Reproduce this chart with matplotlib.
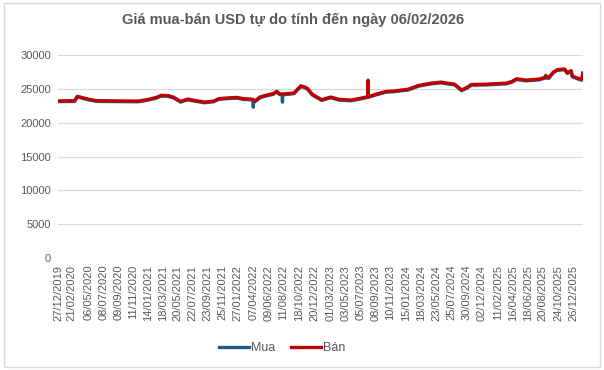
import numpy as np
import pandas as pd
import matplotlib
matplotlib.use("Agg")
import matplotlib.pyplot as plt
from matplotlib.patches import FancyBboxPatch

# ngày quan sát
dates = ["27/12/2019", "06/03/2020", "18/03/2020", "05/04/2020", "09/05/2020",
         "10/06/2020", "03/12/2020", "14/01/2021", "18/02/2021", "10/03/2021",
         "09/04/2021", "03/05/2021", "01/06/2021", "30/06/2021", "30/07/2021",
         "10/09/2021", "19/10/2021", "10/11/2021", "13/12/2021", "24/01/2022",
         "24/02/2022", "24/03/2022", "05/04/2022", "06/04/2022", "07/04/2022",
         "13/04/2022", "04/05/2022", "29/05/2022", "29/06/2022", "15/07/2022",
         "28/07/2022", "07/08/2022", "08/08/2022", "09/08/2022", "15/08/2022",
         "26/09/2022", "25/10/2022", "10/11/2022", "23/11/2022", "13/12/2022",
         "22/01/2023", "01/03/2023", "06/04/2023", "26/05/2023", "04/07/2023",
         "06/08/2023", "07/08/2023", "08/08/2023", "08/09/2023", "20/10/2023",
         "27/11/2023", "25/01/2024", "08/03/2024", "01/05/2024", "12/06/2024",
         "10/07/2024", "09/08/2024", "08/09/2024", "30/09/2024", "20/10/2024",
         "20/12/2024", "17/02/2025", "18/03/2025", "10/04/2025", "30/04/2025",
         "10/06/2025", "05/08/2025", "28/08/2025", "01/09/2025", "13/09/2025",
         "04/10/2025", "20/10/2025", "20/11/2025", "02/12/2025", "18/12/2025",
         "23/12/2025", "14/01/2026", "01/02/2026", "06/02/2026"]

ban = [23230, 23250, 23900, 23750, 23450,
       23250, 23200, 23450, 23750, 24050,
       24000, 23750, 23150, 23500, 23300,
       23050, 23200, 23550, 23650, 23750,
       23550, 23500, 23450, 23450, 23400,
       23200, 23800, 24050, 24300, 24650,
       24250, 24250, 24250, 24250, 24250,
       24400, 25450, 25300, 25050, 24200,
       23400, 23800, 23450, 23350, 23600,
       23850, 26300, 23850, 24200, 24600,
       24700, 24950, 25500, 25850, 26000,
       25850, 25700, 24850, 25200, 25650,
       25700, 25800, 25850, 26100, 26500,
       26300, 26450, 26700, 27000, 26650,
       27500, 27850, 27950, 27400, 27700,
       26900, 26600, 26400, 27350]

mua = [23130, 23150, 23800, 23650, 23350,
       23150, 23100, 23350, 23650, 23950,
       23900, 23650, 23050, 23400, 23200,
       22950, 23100, 23450, 23550, 23650,
       23450, 23400, 23350, 22300, 23300,
       23100, 23700, 23950, 24200, 24550,
       24150, 24150, 23050, 24150, 24150,
       24300, 25350, 25200, 24950, 24100,
       23300, 23700, 23350, 23250, 23500,
       23750, 23750, 23750, 24100, 24500,
       24600, 24850, 25400, 25750, 25900,
       25750, 25600, 24750, 25100, 25550,
       25600, 25700, 25750, 26000, 26400,
       26200, 26350, 26600, 26650, 26550,
       27400, 27750, 27850, 27300, 27600,
       26800, 26500, 26300, 27250]

tick_labels = ["27/12/2019", "21/02/2020", "06/05/2020", "08/07/2020", "09/09/2020",
               "11/11/2020", "14/01/2021", "18/03/2021", "20/05/2021", "22/07/2021",
               "23/09/2021", "25/11/2021", "27/01/2022", "07/04/2022", "09/06/2022",
               "11/08/2022", "18/10/2022", "20/12/2022", "01/03/2023", "03/05/2023",
               "05/07/2023", "08/09/2023", "10/11/2023", "15/01/2024", "18/03/2024",
               "23/05/2024", "25/07/2024", "30/09/2024", "02/12/2024", "11/02/2025",
               "16/04/2025", "18/06/2025", "20/08/2025", "24/10/2025", "26/12/2025"]

x = pd.to_datetime(dates, format="%d/%m/%Y")
ticks = pd.to_datetime(tick_labels, format="%d/%m/%Y")

fig = plt.figure(figsize=(6.04, 3.70), dpi=100)
ax = fig.add_axes([0.096, 0.303, 0.869, 0.548])

grey = "#595959"
ax.plot(x, mua, color="#1F5C8B", lw=2.4, label="Mua", solid_joinstyle="round")
ax.plot(x, ban, color="#C00000", lw=2.4, label="Bán", solid_joinstyle="round")

ax.set_ylim(0, 30000)
ax.set_yticks(np.arange(0, 30001, 5000))
ax.set_xlim(x[0], x[-1])
ax.set_xticks(ticks)
ax.set_xticklabels(tick_labels, rotation=90, fontsize=8, color=grey,
                   family=["Liberation Sans", "DejaVu Sans"])
for lab in ax.get_yticklabels():
    lab.set_fontsize(8)
    lab.set_color(grey)
    lab.set_family(["Liberation Sans", "DejaVu Sans"])
ax.tick_params(length=0, pad=5)
ax.grid(axis="y", color="#D9D9D9", lw=0.9)
ax.set_axisbelow(True)
for s in ax.spines.values():
    s.set_visible(False)

fig.text(0.486, 0.946, "Giá mua-bán USD tự do tính đến ngày 06/02/2026",
         ha="center", va="center", fontsize=10.5, fontweight="bold", color=grey,
         family=["Liberation Sans", "DejaVu Sans"])

leg = fig.legend(loc="center", bbox_to_anchor=(0.467, 0.059), ncol=2, frameon=False,
                 handlelength=2.4, handletextpad=0.2, columnspacing=1.2,
                 prop={"family": ["Liberation Sans", "DejaVu Sans"], "size": 9})
for t in leg.get_texts():
    t.set_color(grey)

fig.patches.append(FancyBboxPatch((0.006, 0.008), 0.988, 0.984,
                                  boxstyle="square,pad=0", transform=fig.transFigure,
                                  fill=False, edgecolor="#D9D9D9", lw=1))

fig.savefig("out.png", dpi=100)
